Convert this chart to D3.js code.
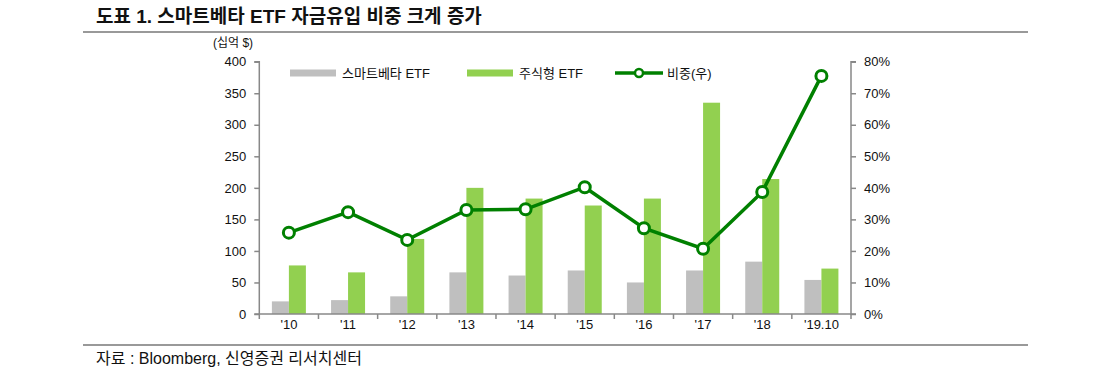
<!DOCTYPE html>
<html><head><meta charset="utf-8">
<script src="https://cdn.jsdelivr.net/npm/d3@7"></script>
<style>body{margin:0;background:#fff;font-family:Arial,"Liberation Sans","Noto Sans CJK KR",sans-serif;}</style>
</head><body><svg id="c" width="1093" height="376"></svg>
<script>
const categories = ["'10","'11","'12","'13","'14","'15","'16","'17","'18","'19.10"];
const smartBeta = [20, 22, 28, 66, 61, 69, 50, 69, 83, 54];
const equityETF = [77, 66, 119, 200, 183, 172, 183, 335, 214, 72];
const share = [25.8, 32.3, 23.5, 33.0, 33.2, 40.2, 27.2, 20.7, 38.7, 75.5];
const leftTicks = [0,50,100,150,200,250,300,350,400];
const rightTicks = [0,10,20,30,40,50,60,70,80];

const svg = d3.select("#c");
const font = 'Arial,"Liberation Sans","Noto Sans CJK KR",sans-serif';
const L = 259.3, R = 851, T = 61.7, B = 314;
const x = d3.scaleBand().domain(categories).range([L, R]).paddingInner(0).paddingOuter(0);
const yL = d3.scaleLinear().domain([0,400]).range([B, T]);
const yR = d3.scaleLinear().domain([0,80]).range([B, T]);

// title
svg.append("text").attr("x",96).attr("y",23).attr("font-size",19).attr("font-weight","bold")
  .attr("font-family",font).attr("fill","#111").text("도표 1. 스마트베타 ETF 자금유입 비중 크게 증가");
svg.append("line").attr("x1",83).attr("x2",1028).attr("y1",32).attr("y2",32).attr("stroke","#999").attr("stroke-width",2);
svg.append("line").attr("x1",83).attr("x2",1028).attr("y1",345).attr("y2",345).attr("stroke","#999").attr("stroke-width",2);
svg.append("text").attr("x",96).attr("y",364).attr("font-size",16).attr("font-family",font).attr("fill","#111")
  .text("자료 : Bloomberg, 신영증권 리서치센터");
svg.append("text").attr("x",213).attr("y",47).attr("font-size",12).attr("font-family",font).attr("fill","#111").text("(십억 $)");

// bars
const bw = 17;
const g = svg.append("g");
g.selectAll(".sb").data(categories).join("rect")
  .attr("x", d => x(d)+x.bandwidth()/2-bw).attr("width", bw)
  .attr("y", (d,i) => yL(smartBeta[i])).attr("height",(d,i)=>B-yL(smartBeta[i])).attr("fill","#bfbfbf");
g.selectAll(".eq").data(categories).join("rect")
  .attr("x", d => x(d)+x.bandwidth()/2).attr("width", bw)
  .attr("y", (d,i) => yL(equityETF[i])).attr("height",(d,i)=>B-yL(equityETF[i])).attr("fill","#92d050");

// axes
const axL = svg.append("g").attr("transform",`translate(${L},0)`)
  .call(d3.axisLeft(yL).tickValues(leftTicks).tickSize(5).tickPadding(8));
const axR = svg.append("g").attr("transform",`translate(${R},0)`)
  .call(d3.axisRight(yR).tickValues(rightTicks).tickSize(5).tickPadding(8).tickFormat(d=>d+"%"));
const axX = svg.append("g").attr("transform",`translate(0,${B})`)
  .call(d3.axisBottom(x).tickSize(0).tickPadding(6));
// x ticks at category boundaries
svg.append("g").selectAll("line").data(d3.range(categories.length+1)).join("line")
  .attr("x1",i=>L+i*x.step()).attr("x2",i=>L+i*x.step()).attr("y1",B).attr("y2",B+5)
  .attr("stroke","#888").attr("stroke-width",1.5);
[axL,axR,axX].forEach(a=>{
  a.selectAll("path").attr("stroke","#888").attr("stroke-width",1.5);
  a.selectAll(".tick line").attr("stroke","#888").attr("stroke-width",1.5);
  a.selectAll("text").attr("font-size",13).attr("font-family",font).attr("fill","#111");
});
axX.select(".domain").attr("d",`M${L},0H${R}`);
axL.select(".domain").attr("d",`M-5,${T}H0V${B}H-5`);
axR.select(".domain").attr("d",`M5,${T}H0V${B}H5`);

// line
const cx = d => x(d)+x.bandwidth()/2;
svg.append("path").datum(categories)
  .attr("d", d3.line().x(cx).y((d,i)=>yR(share[i])))
  .attr("fill","none").attr("stroke","#008000").attr("stroke-width",3.5);
svg.selectAll(".pt").data(categories).join("circle")
  .attr("cx",cx).attr("cy",(d,i)=>yR(share[i])).attr("r",5.5)
  .attr("fill","#fff").attr("stroke","#008000").attr("stroke-width",3);

// legend
const ly = 73;
svg.append("rect").attr("x",290).attr("y",ly-3.5).attr("width",46).attr("height",7).attr("fill","#bfbfbf");
svg.append("text").attr("x",342).attr("y",ly+5).attr("font-size",13).attr("font-family",font).attr("fill","#111").text("스마트베타 ETF");
svg.append("rect").attr("x",467).attr("y",ly-3.5).attr("width",46).attr("height",7).attr("fill","#92d050");
svg.append("text").attr("x",519).attr("y",ly+5).attr("font-size",13).attr("font-family",font).attr("fill","#111").text("주식형 ETF");
svg.append("line").attr("x1",615).attr("x2",663).attr("y1",ly).attr("y2",ly).attr("stroke","#008000").attr("stroke-width",3.5);
svg.append("circle").attr("cx",639).attr("cy",ly).attr("r",4).attr("fill","#fff").attr("stroke","#008000").attr("stroke-width",2.5);
svg.append("text").attr("x",667).attr("y",ly+5).attr("font-size",13).attr("font-family",font).attr("fill","#111").text("비중(우)");
</script></body></html>
